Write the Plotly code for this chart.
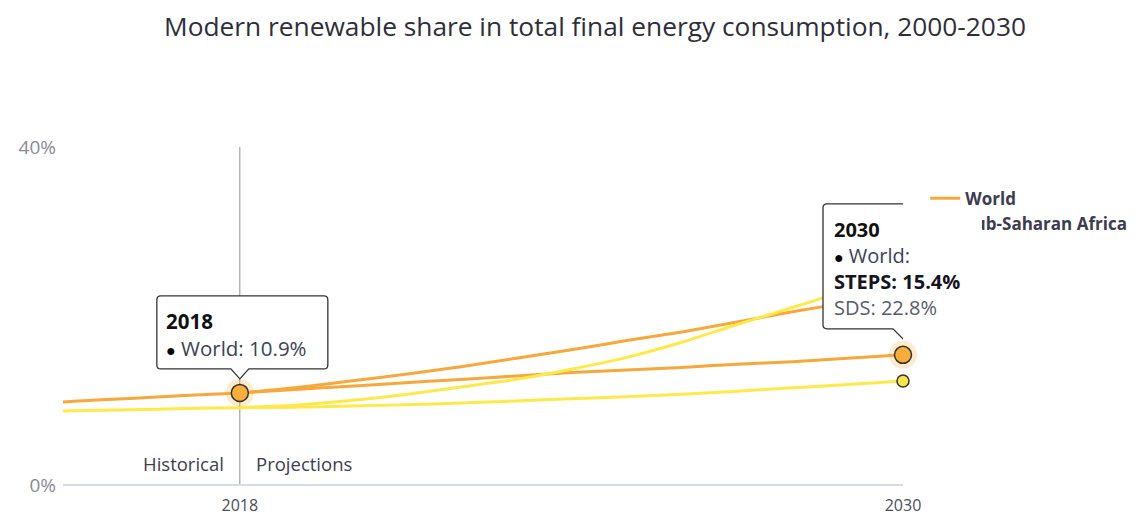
import plotly.graph_objects as go

# ---------------- data ----------------
years_hist = [2014, 2015, 2016, 2017, 2018]
world_hist = [9.55, 9.9, 10.25, 10.6, 10.9]
ssa_hist = [8.65, 8.8, 8.9, 9.05, 9.15]

years_proj = [2018, 2019, 2020, 2021, 2022, 2023, 2024, 2025, 2026, 2027, 2028, 2029, 2030]
world_steps = [10.9, 11.3, 11.7, 12.1, 12.5, 12.9, 13.3, 13.6, 13.9, 14.3, 14.6, 15.0, 15.4]
world_sds = [10.9, 11.5, 12.3, 13.1, 14.0, 15.0, 16.0, 17.1, 18.1, 19.3, 20.5, 21.6, 22.8]
ssa_steps = [9.15, 9.2, 9.35, 9.5, 9.7, 9.95, 10.2, 10.45, 10.75, 11.1, 11.5, 11.9, 12.3]
ssa_sds = [9.15, 9.45, 10.0, 10.7, 11.6, 12.5, 13.7, 15.1, 16.9, 19.0, 21.0, 23.1, 25.5]

region_names = ["World", "Sub-Saharan Africa"]
x_ticks = [2018, 2030]
y_ticks = [0, 40]
y_tick_text = ["0%", "40%"]
title_text = "Modern renewable share in total final energy consumption, 2000-2030"
split_year = 2018
end_year = 2030

# ---------------- styles ----------------
FONT = "Open Sans"
ORANGE = "#F8A73B"
ORANGE_FILL = "#F9AE3C"
YELLOW = "#FDE94A"
YELLOW_FILL = "#F9E547"

fig = go.Figure()

def line(x, y, color, name, show):
    fig.add_trace(go.Scatter(
        x=x, y=y, mode="lines", name=name, legendgroup=name, showlegend=show,
        line=dict(color=color, width=3, shape="spline", smoothing=0.6),
        hoverinfo="skip"))

line(years_hist + years_proj[1:], world_hist + world_steps[1:], ORANGE, region_names[0], True)
line(years_proj, world_sds, ORANGE, region_names[0], False)
line(years_hist + years_proj[1:], ssa_hist + ssa_steps[1:], YELLOW, region_names[1], True)
line(years_proj, ssa_sds, YELLOW, region_names[1], False)

# highlighted points
w18 = world_hist[-1]
w30 = world_steps[-1]
s30 = ssa_steps[-1]
fig.add_trace(go.Scatter(
    x=[split_year, end_year], y=[w18, w30], mode="markers", showlegend=False,
    cliponaxis=False, hoverinfo="skip",
    marker=dict(size=28, color="rgba(249,174,60,0.25)", line=dict(width=0))))
fig.add_trace(go.Scatter(
    x=[split_year, end_year], y=[w18, w30], mode="markers", showlegend=False,
    cliponaxis=False, hoverinfo="skip",
    marker=dict(size=17, color=ORANGE_FILL, line=dict(width=1.5, color="#333333"))))
fig.add_trace(go.Scatter(
    x=[end_year], y=[s30], mode="markers", showlegend=False,
    cliponaxis=False, hoverinfo="skip",
    marker=dict(size=12, color=YELLOW_FILL, line=dict(width=1.5, color="#333333"))))


def callout_path(L, R, T, B, A, hw, r=4):
    return (f"M{L + r},{T} L{R - r},{T} Q{R},{T} {R},{T - r} L{R},{B + r} "
            f"Q{R},{B} {R - r},{B} L{hw},{B} L0,{A} L{-hw},{B} L{L + r},{B} "
            f"Q{L},{B} {L},{B + r} L{L},{T - r} Q{L},{T} {L + r},{T} Z")

shapes = [
    # vertical separator
    dict(type="line", xref="x", yref="paper", x0=split_year, x1=split_year, y0=0, y1=1,
         line=dict(color="#8f8f8f", width=1), layer="below"),
    # callouts
    dict(type="path", xref="x", yref="y", xsizemode="pixel", ysizemode="pixel",
         xanchor=split_year, yanchor=w18,
         path=callout_path(-83, 88, 97, 24, 14, 9),
         fillcolor="white", line=dict(color="#333333", width=1.3), layer="above"),
    dict(type="path", xref="x", yref="y", xsizemode="pixel", ysizemode="pixel",
         xanchor=end_year, yanchor=w30,
         path=callout_path(-80, 81, 151, 26, 16, 10),
         fillcolor="white", line=dict(color="#333333", width=1.3), layer="above"),
]

bullet = "<span style='font-size:16px;color:#000'>●</span> "
ann = []
# white cover inside the 2030 callout (hides the legend behind it)
ann.append(dict(xref="x", yref="y", x=end_year, y=w30, text=" ", showarrow=False,
                xanchor="center", yanchor="middle", xshift=0.5, yshift=87,
                width=157, height=118, bgcolor="white", borderpad=0, borderwidth=0))

def txt(x, y, dx, dy, text, size, color, weight="normal"):
    ann.append(dict(xref="x", yref="y", x=x, y=y, xshift=dx, yshift=dy, text=text,
                    showarrow=False, xanchor="left", yanchor="middle", align="left",
                    borderpad=0, borderwidth=0,
                    font=dict(family=FONT, size=size, color=color, weight=weight)))

txt(split_year, w18, -74, 72, f"{split_year}", 20.5, "#111111", "bold")
txt(split_year, w18, -74, 45, bullet + f"{region_names[0]}: {w18}%", 20.5, "#3a4256")
txt(end_year, w30, -69, 125, f"{end_year}", 20, "#111111", "bold")
txt(end_year, w30, -69, 99, bullet + f"{region_names[0]}:", 20, "#3a4256")
txt(end_year, w30, -69, 73, f"STEPS: {w30}%", 20, "#15151f", "bold")
txt(end_year, w30, -69, 47, f"SDS: {world_sds[-1]}%", 20, "#555b6b")

# Historical / Projections
ann.append(dict(xref="x", yref="paper", x=split_year, y=0.065, xshift=-14, text="Historical",
                showarrow=False, xanchor="right", yanchor="middle",
                font=dict(family=FONT, size=18.5, color="#3d3d4f")))
ann.append(dict(xref="x", yref="paper", x=split_year, y=0.065, xshift=14, text="Projections",
                showarrow=False, xanchor="left", yanchor="middle",
                font=dict(family=FONT, size=18.5, color="#3d3d4f")))

fig.update_layout(
    width=1138, height=515,
    margin=dict(l=63, r=235, t=147, b=30, autoexpand=False),
    paper_bgcolor="white", plot_bgcolor="white",
    font=dict(family=FONT),
    title=dict(text=title_text, x=595 / 1138, xref="container", xanchor="center",
               y=1 - 27 / 515, yref="container", yanchor="middle",
               font=dict(family=FONT, size=26.3, color="#2e2e3a")),
    showlegend=True,
    legend=dict(x=1.0265, y=0.9, xanchor="left", yanchor="top",
                font=dict(family=FONT, size=17, color="#3c3c4e", weight="bold"),
                tracegroupgap=0, itemwidth=30, bgcolor="rgba(0,0,0,0)"),
    xaxis=dict(range=[2014.8, end_year], tickvals=x_ticks, ticktext=[str(v) for v in x_ticks],
               showgrid=False, zeroline=False, showline=False, ticks="", automargin=False,
               tickfont=dict(family=FONT, size=16, color="#4d4d5c"), ticklabelstandoff=9),
    yaxis=dict(range=[0, 40], tickvals=y_ticks, ticktext=y_tick_text, automargin=False,
               showgrid=True, gridcolor="#e6e6e6", gridwidth=1,
               zeroline=True, zerolinecolor="#d5dbe8", zerolinewidth=1.5,
               showline=False, ticks="", ticklabelstandoff=6,
               tickfont=dict(family=FONT, size=19, color="#8a8a96")),
    shapes=shapes,
    annotations=ann,
)

fig.write_html("out.html")
